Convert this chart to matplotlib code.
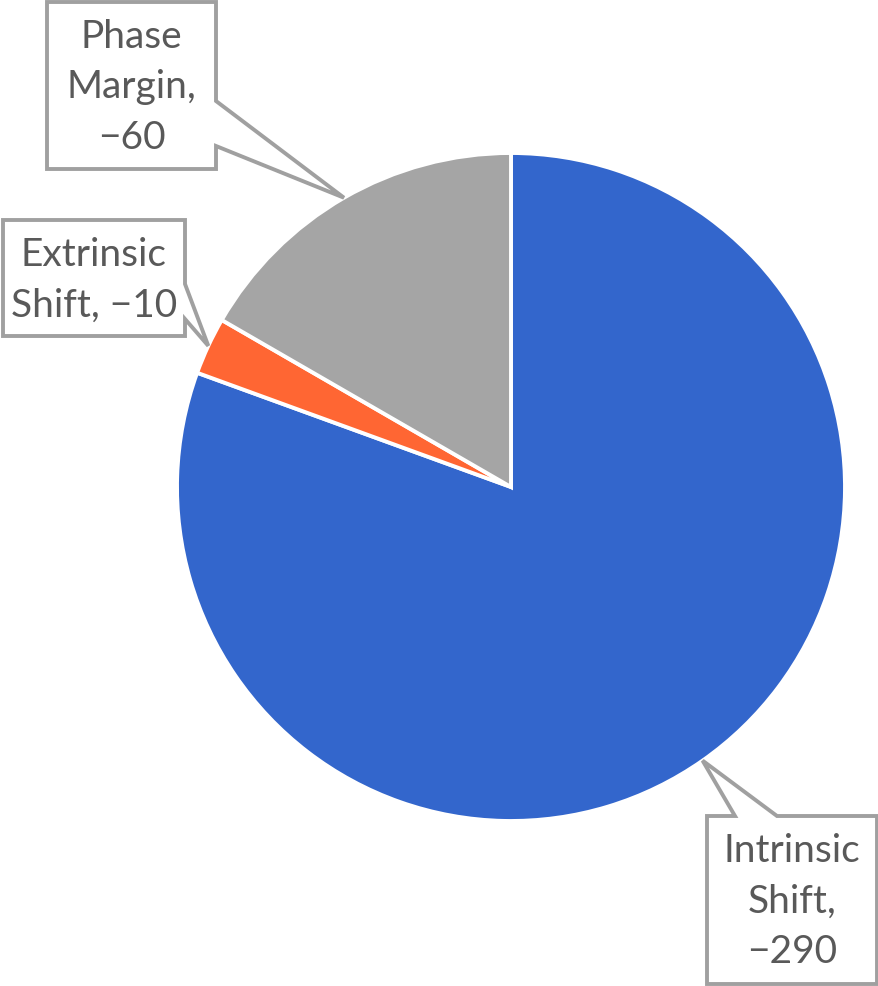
import numpy as np
import matplotlib
matplotlib.use("Agg")
import matplotlib.pyplot as plt
from matplotlib.patches import Polygon

# --- data ---
labels = ["Intrinsic\nShift,\n\u2013290", "Extrinsic\nShift, \u201310", "Phase\nMargin,\n\u201360"]
values = [290, 10, 60]
colors = ["#3366CC", "#FF6633", "#A5A5A5"]

W, H = 879, 987
CX, CY, R = 511, 488, 334  # pie centre / radius in pixel coords (y down)

fig = plt.figure(figsize=(W / 100, H / 100), dpi=100)
ax = fig.add_axes([0, 0, 1, 1])

wedges, _ = ax.pie(
    values,
    colors=colors,
    startangle=90,
    counterclock=False,
    center=(CX, H - CY),
    radius=R,
    wedgeprops=dict(edgecolor="white", linewidth=2.8),
    frame=True,
)
ax.set_xlim(0, W)
ax.set_ylim(0, H)
ax.set_aspect("equal")
ax.axis("off")


def px(x, y):
    return (x, H - y)


def callout(box, tip, side, base, text):
    """box = (x0, y0, x1, y1) in pixels (y down); pointer base on given side"""
    x0, y0, x1, y1 = box
    b0, b1 = base
    if side == "right":
        pts = [(x0, y0), (x1, y0), (x1, b0), tip, (x1, b1), (x1, y1), (x0, y1)]
    else:  # top
        pts = [(x0, y0), (b0, y0), tip, (b1, y0), (x1, y0), (x1, y1), (x0, y1)]
    poly = Polygon([px(*p) for p in pts], closed=True, facecolor="white",
                   edgecolor="#A0A0A0", linewidth=2.8, joinstyle="miter", zorder=5)
    ax.add_patch(poly)
    ax.text((x0 + x1) / 2, H - (y0 + y1) / 2 - 1, text.replace("\u2013", "\u2212"),
            ha="center", va="center", fontsize=28, color="#595959",
            family="Lato", linespacing=1.5, zorder=6)


def tip_of(w):
    ang = np.deg2rad((w.theta1 + w.theta2) / 2)
    x, y = w.center
    return (x + w.r * np.cos(ang), H - (y + w.r * np.sin(ang)))


callout((707, 817, 877, 985), tip_of(wedges[0]), "top", (735, 777), labels[0])
callout((3, 221, 185, 337), tip_of(wedges[1]), "right", (285, 320), labels[1])
callout((47, 3, 216, 170), tip_of(wedges[2]), "right", (102, 147), labels[2])

fig.savefig("out.png", dpi=100, facecolor="white")
